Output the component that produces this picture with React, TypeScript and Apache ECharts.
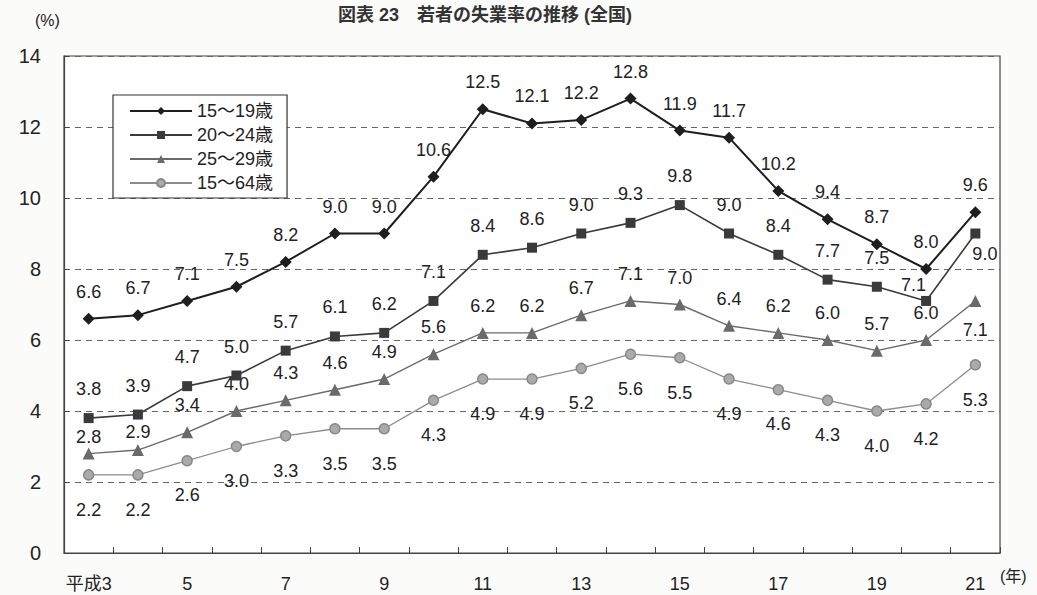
import React, { useEffect, useRef } from "react";
import * as echarts from "echarts";

const years = ["平成3", "4", "5", "6", "7", "8", "9", "10", "11", "12", "13", "14", "15", "16", "17", "18", "19", "20", "21"];
const s1519 = [6.6, 6.7, 7.1, 7.5, 8.2, 9.0, 9.0, 10.6, 12.5, 12.1, 12.2, 12.8, 11.9, 11.7, 10.2, 9.4, 8.7, 8.0, 9.6];
const s2024 = [3.8, 3.9, 4.7, 5.0, 5.7, 6.1, 6.2, 7.1, 8.4, 8.6, 9.0, 9.3, 9.8, 9.0, 8.4, 7.7, 7.5, 7.1, 9.0];
const s2529 = [2.8, 2.9, 3.4, 4.0, 4.3, 4.6, 4.9, 5.6, 6.2, 6.2, 6.7, 7.1, 7.0, 6.4, 6.2, 6.0, 5.7, 6.0, 7.1];
const s1564 = [2.2, 2.2, 2.6, 3.0, 3.3, 3.5, 3.5, 4.3, 4.9, 4.9, 5.2, 5.6, 5.5, 4.9, 4.6, 4.3, 4.0, 4.2, 5.3];
const names = ["15～19歳", "20～24歳", "25～29歳", "15～64歳"];
const yTicks = [0, 2, 4, 6, 8, 10, 12, 14];

const FONT = "'Liberation Sans', Arial, 'Noto Sans CJK JP', sans-serif";

export default function App() {
  const ref = useRef<HTMLDivElement>(null);
  useEffect(() => {
    if (!ref.current) return;
    const chart = echarts.init(ref.current, undefined, { renderer: "svg" });
    const fmt = (p: any) => Number(p.value).toFixed(1);
    const lbl = (pos: any, dist = 8) => ({
      show: true,
      position: pos,
      distance: dist,
      formatter: fmt,
      fontSize: 18,
      color: "#222",
      fontFamily: FONT,
    });
    const withOverrides = (arr: number[], over: Record<number, any>) =>
      arr.map((v, i) => (over[i] ? { value: v, label: over[i] } : v));

    chart.setOption({
      animation: false,
      backgroundColor: "#fbfbf9",
      textStyle: { fontFamily: FONT },
      title: {
        text: "図表 23　若者の失業率の推移 (全国)",
        left: 480,
        textAlign: "center",
        top: 1,
        textStyle: { fontSize: 18, fontWeight: "bold", color: "#333", fontFamily: FONT },
      },
      graphic: [
        { type: "text", left: 35, top: 12, style: { text: "(%)", fontSize: 16, fill: "#222", fontFamily: FONT } },
        { type: "text", left: 1000, top: 568, style: { text: "(年)", fontSize: 16, fill: "#222", fontFamily: FONT } },
      ],
      legend: {
        orient: "vertical",
        left: 113,
        top: 95,
        width: 177,
        padding: [7, 14, 6, 16],
        borderColor: "#333",
        borderWidth: 1.2,
        backgroundColor: "#fff",
        itemWidth: 62,
        itemHeight: 10,
        itemGap: 6,
        data: names,
        textStyle: { fontSize: 18, color: "#222", fontFamily: FONT },
      },
      grid: {
        left: 64,
        right: 37,
        top: 56,
        bottom: 42,
        show: true,
        borderColor: "#444",
        borderWidth: 1.2,
        backgroundColor: "#fff",
      },
      xAxis: {
        type: "category",
        data: years,
        boundaryGap: true,
        axisLine: { lineStyle: { color: "#444", width: 1.2 } },
        axisTick: { show: true, inside: true, length: 6, interval: 0, lineStyle: { color: "#444" } },
        axisLabel: { interval: 1, margin: 22, fontSize: 18, color: "#222", fontFamily: FONT },
      },
      yAxis: {
        type: "value",
        min: 0,
        max: 14,
        interval: 2,
        axisLine: { show: true, lineStyle: { color: "#444", width: 1.2 } },
        axisTick: { show: true, inside: true, length: 5, lineStyle: { color: "#444" } },
        axisLabel: {
          margin: 23,
          fontSize: 20,
          color: "#222",
          fontFamily: FONT,
          formatter: (v: number) => (yTicks.includes(v) ? String(v) : ""),
        },
        splitLine: { show: true, lineStyle: { type: [6, 5], color: "#666", width: 1 } },
      },
      series: [
        {
          name: names[0],
          type: "line",
          data: s1519,
          symbol: "diamond",
          symbolSize: 12,
          itemStyle: { color: "#1e1e1e" },
          lineStyle: { color: "#1e1e1e", width: 2 },
          label: lbl("top", 12),
          z: 5,
        },
        {
          name: names[1],
          type: "line",
          data: withOverrides(s2024, {
            17: { show: true, position: [-20, -20], formatter: fmt, fontSize: 18, color: "#222", fontFamily: FONT },
            18: { show: true, position: [2, 16], formatter: fmt, fontSize: 18, color: "#222", fontFamily: FONT },
          }),
          symbol: "rect",
          symbolSize: 10,
          itemStyle: { color: "#3a3a3a" },
          lineStyle: { color: "#3a3a3a", width: 1.6 },
          label: lbl("top", 15),
          z: 4,
        },
        {
          name: names[2],
          type: "line",
          data: withOverrides(s2529, {
            0: lbl("top", 2),
            1: lbl("top", 3),
            18: lbl("bottom", 14),
          }),
          symbol: "triangle",
          symbolSize: 12,
          itemStyle: { color: "#6a6a6a" },
          lineStyle: { color: "#6a6a6a", width: 1.4 },
          label: lbl("top", 12),
          z: 3,
        },
        {
          name: names[3],
          type: "line",
          data: s1564,
          symbol: "circle",
          symbolSize: 10,
          itemStyle: { color: "#aaa", borderColor: "#888", borderWidth: 1.5 },
          lineStyle: { color: "#8c8c8c", width: 1.3 },
          label: lbl("bottom", 20),
          z: 2,
        },
      ],
    });
    return () => chart.dispose();
  }, []);
  return (
    <div
      ref={ref}
      style={{ position: "fixed", left: 0, top: 0, width: 1037, height: 595 }}
    />
  );
}
